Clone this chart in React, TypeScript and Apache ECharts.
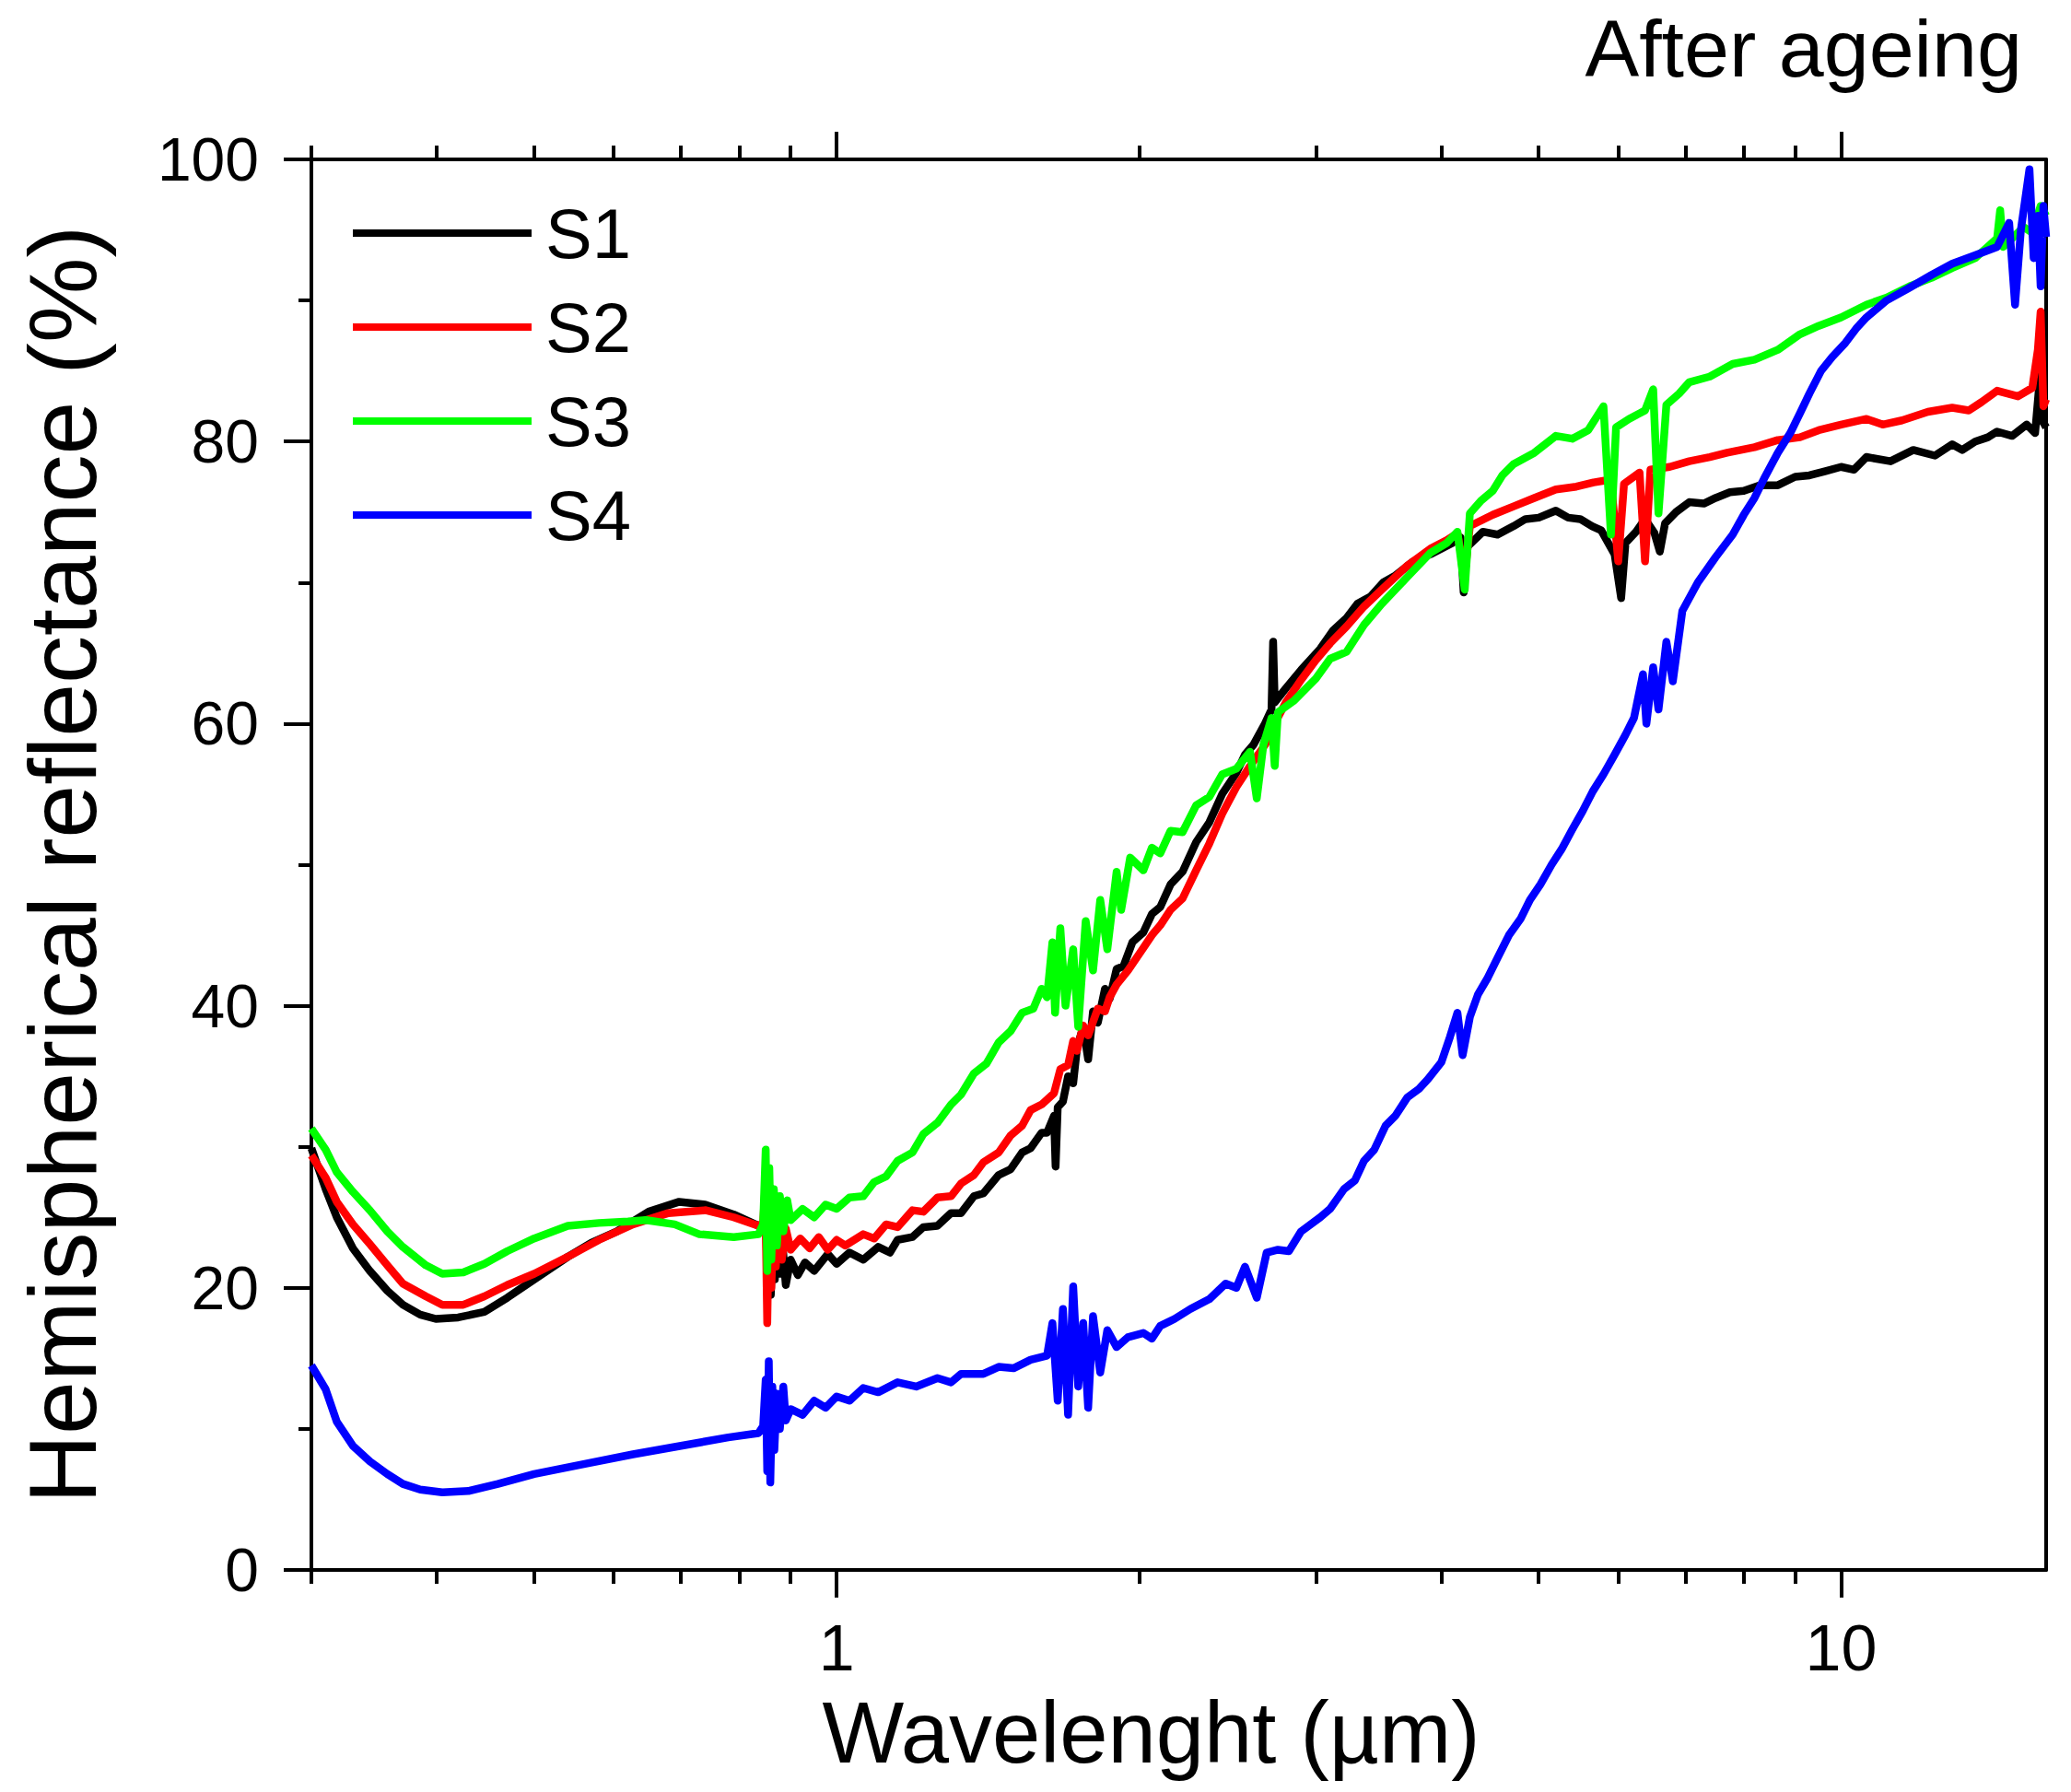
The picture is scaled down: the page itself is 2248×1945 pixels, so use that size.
import { useEffect, useRef } from 'react'
import * as echarts from 'echarts'

const FONT = 'Liberation Sans, Arial, sans-serif'

const X_MIN = 0.3
const X_MAX = 16
const MAJOR_X = [1, 10]
const MINOR_X = [0.3, 0.4, 0.5, 0.6, 0.7, 0.8, 0.9, 2, 3, 4, 5, 6, 7, 8, 9]

const SERIES_NAMES = ['S1', 'S2', 'S3', 'S4']
const SERIES_COLORS = ['#000000', '#ff0000', '#00ff00', '#0000ff']

// [wavelength (µm), reflectance (%)]
const S1: [number, number][] = [
  [0.3, 29.9], [0.31, 27.0], [0.318, 25.0], [0.33, 22.8], [0.343, 21.2], [0.357, 19.8],
  [0.37, 18.8], [0.385, 18.1], [0.399, 17.8], [0.42, 17.9], [0.446, 18.3], [0.47, 19.3],
  [0.5, 20.6], [0.54, 22.2], [0.57, 23.2], [0.604, 24.0], [0.65, 25.4], [0.697, 26.1],
  [0.74, 25.9], [0.79, 25.2], [0.836, 24.4], [0.845, 24.0], [0.85, 26.5], [0.853, 20.5],
  [0.856, 25.8], [0.86, 19.5], [0.864, 24.2], [0.868, 20.6], [0.872, 23.5], [0.878, 21.0],
  [0.884, 22.8], [0.89, 20.2], [0.9, 22.0], [0.915, 20.9], [0.93, 21.8], [0.95, 21.2],
  [0.98, 22.4], [1.0, 21.7], [1.03, 22.5], [1.063, 22.0], [1.1, 22.9], [1.13, 22.5],
  [1.15, 23.4], [1.19, 23.6], [1.22, 24.3], [1.26, 24.4], [1.3, 25.3], [1.33, 25.3],
  [1.37, 26.5], [1.4, 26.7], [1.45, 28.0], [1.49, 28.4], [1.53, 29.6], [1.56, 29.9],
  [1.6, 31.0], [1.62, 31.0], [1.646, 32.2], [1.652, 28.6], [1.66, 32.8], [1.68, 33.2],
  [1.7, 35.0], [1.72, 34.5], [1.735, 37.0], [1.76, 38.5], [1.78, 36.2], [1.8, 39.6],
  [1.82, 38.8], [1.85, 41.2], [1.87, 40.5], [1.9, 42.6], [1.93, 42.8], [1.97, 44.5],
  [2.02, 45.2], [2.06, 46.5], [2.1, 47.0], [2.15, 48.6], [2.21, 49.5], [2.28, 51.6],
  [2.35, 53.0], [2.42, 55.0], [2.5, 56.5], [2.55, 57.8], [2.6, 58.5], [2.67, 60.0],
  [2.71, 61.0], [2.72, 65.8], [2.73, 61.5], [2.8, 62.5], [2.9, 63.8], [3.03, 65.3],
  [3.12, 66.6], [3.22, 67.5], [3.3, 68.5], [3.4, 69.0], [3.5, 70.0], [3.6, 70.5],
  [3.75, 71.5], [3.9, 72.0], [4.1, 72.8], [4.18, 73.2], [4.21, 69.3], [4.24, 72.5],
  [4.4, 73.6], [4.55, 73.4], [4.72, 74.0], [4.85, 74.5], [5.0, 74.6], [5.2, 75.1],
  [5.35, 74.6], [5.5, 74.5], [5.65, 74.0], [5.77, 73.7], [5.95, 72.0], [6.04, 68.9],
  [6.1, 72.8], [6.25, 73.6], [6.38, 74.5], [6.52, 73.5], [6.6, 72.2], [6.68, 74.2],
  [6.85, 75.0], [7.06, 75.7], [7.3, 75.6], [7.5, 76.0], [7.75, 76.4], [8.0, 76.5],
  [8.3, 76.9], [8.65, 76.9], [9.0, 77.5], [9.3, 77.6], [9.65, 77.9], [10.0, 78.2],
  [10.3, 78.0], [10.6, 78.9], [11.2, 78.6], [11.8, 79.4], [12.4, 79.0], [12.9, 79.8],
  [13.2, 79.4], [13.6, 80.0], [14.0, 80.3], [14.3, 80.7], [14.8, 80.4], [15.3, 81.2],
  [15.6, 80.6], [15.75, 84.0], [15.8, 88.0], [15.85, 81.5], [16.0, 81.0],
]

const S2: [number, number][] = [
  [0.3, 29.4], [0.31, 27.8], [0.318, 26.1], [0.33, 24.5], [0.343, 23.1], [0.357, 21.6],
  [0.37, 20.3], [0.39, 19.4], [0.405, 18.8], [0.425, 18.8], [0.446, 19.4], [0.47, 20.2],
  [0.5, 21.0], [0.54, 22.2], [0.58, 23.4], [0.627, 24.5], [0.68, 25.3], [0.741, 25.5],
  [0.79, 25.0], [0.836, 24.4], [0.845, 24.6], [0.849, 27.0], [0.853, 17.5], [0.857, 26.5],
  [0.861, 20.0], [0.866, 25.8], [0.87, 21.5], [0.876, 25.0], [0.882, 22.0], [0.89, 24.2],
  [0.9, 22.7], [0.92, 23.5], [0.94, 22.8], [0.96, 23.6], [0.98, 22.7], [1.0, 23.4],
  [1.02, 23.0], [1.063, 23.8], [1.09, 23.5], [1.12, 24.5], [1.15, 24.3], [1.19, 25.5],
  [1.22, 25.4], [1.26, 26.4], [1.3, 26.5], [1.33, 27.4], [1.37, 28.0], [1.4, 28.9],
  [1.45, 29.6], [1.49, 30.8], [1.53, 31.5], [1.56, 32.6], [1.6, 33.0], [1.646, 33.8],
  [1.67, 35.5], [1.7, 35.8], [1.72, 37.5], [1.735, 36.8], [1.76, 38.6], [1.78, 37.9],
  [1.82, 39.8], [1.85, 39.6], [1.87, 40.6], [1.9, 41.5], [1.95, 42.5], [2.02, 44.1],
  [2.06, 45.0], [2.1, 45.7], [2.15, 46.8], [2.21, 47.6], [2.28, 49.6], [2.35, 51.5],
  [2.42, 53.6], [2.5, 55.5], [2.58, 57.0], [2.67, 58.5], [2.73, 60.0], [2.8, 61.5],
  [2.9, 63.1], [3.0, 64.5], [3.1, 65.7], [3.22, 66.9], [3.35, 68.3], [3.49, 69.5],
  [3.7, 71.2], [3.9, 72.4], [4.05, 73.0], [4.15, 73.5], [4.22, 70.5], [4.27, 74.0],
  [4.5, 74.8], [4.72, 75.4], [4.95, 76.0], [5.2, 76.6], [5.45, 76.8], [5.67, 77.1],
  [5.9, 77.3], [6.0, 71.5], [6.08, 77.0], [6.3, 77.8], [6.38, 71.5], [6.46, 78.0],
  [6.75, 78.2], [7.06, 78.6], [7.4, 78.9], [7.7, 79.2], [8.2, 79.6], [8.65, 80.1],
  [9.1, 80.3], [9.5, 80.8], [10.0, 81.2], [10.6, 81.6], [11.0, 81.2], [11.5, 81.5],
  [12.2, 82.1], [12.9, 82.4], [13.4, 82.2], [13.8, 82.8], [14.3, 83.6], [15.0, 83.2],
  [15.5, 83.8], [15.7, 86.5], [15.8, 89.2], [15.9, 82.5], [16.0, 83.0],
]

const S3: [number, number][] = [
  [0.3, 31.3], [0.31, 29.8], [0.318, 28.2], [0.33, 26.8], [0.343, 25.5], [0.357, 24.0],
  [0.37, 22.9], [0.39, 21.6], [0.405, 21.0], [0.425, 21.1], [0.446, 21.7], [0.47, 22.6],
  [0.5, 23.5], [0.54, 24.4], [0.58, 24.6], [0.62, 24.7], [0.646, 24.8], [0.69, 24.5],
  [0.73, 23.8], [0.79, 23.6], [0.836, 23.8], [0.845, 24.5], [0.85, 29.8], [0.853, 21.2],
  [0.857, 28.5], [0.861, 22.0], [0.866, 27.0], [0.872, 23.0], [0.878, 26.5], [0.885, 24.0],
  [0.893, 26.2], [0.9, 24.8], [0.925, 25.6], [0.95, 25.0], [0.975, 25.9], [1.0, 25.6],
  [1.03, 26.4], [1.063, 26.5], [1.09, 27.5], [1.12, 27.9], [1.15, 29.0], [1.19, 29.6],
  [1.22, 30.9], [1.26, 31.7], [1.3, 33.0], [1.33, 33.7], [1.37, 35.2], [1.41, 35.9],
  [1.45, 37.4], [1.49, 38.2], [1.53, 39.5], [1.57, 39.8], [1.6, 41.2], [1.62, 40.6],
  [1.64, 44.5], [1.65, 39.5], [1.67, 45.5], [1.69, 40.0], [1.72, 44.0], [1.74, 38.5],
  [1.77, 46.0], [1.8, 42.5], [1.83, 47.5], [1.86, 44.0], [1.9, 49.5], [1.92, 46.8],
  [1.96, 50.5], [2.02, 49.6], [2.06, 51.2], [2.1, 50.8], [2.15, 52.4], [2.21, 52.3],
  [2.28, 54.2], [2.35, 54.8], [2.42, 56.4], [2.5, 56.8], [2.58, 58.0], [2.62, 54.7],
  [2.66, 58.5], [2.71, 60.4], [2.73, 57.0], [2.75, 60.8], [2.85, 61.6], [3.0, 63.2],
  [3.1, 64.6], [3.22, 65.1], [3.35, 67.0], [3.49, 68.5], [3.7, 70.4], [3.9, 72.1],
  [4.05, 72.8], [4.15, 73.6], [4.22, 69.5], [4.27, 74.9], [4.38, 75.8], [4.5, 76.5],
  [4.6, 77.6], [4.72, 78.4], [4.95, 79.2], [5.2, 80.4], [5.4, 80.2], [5.6, 80.8],
  [5.8, 82.5], [5.9, 73.4], [5.97, 81.0], [6.15, 81.6], [6.38, 82.2], [6.5, 83.7],
  [6.58, 74.9], [6.7, 82.6], [6.9, 83.4], [7.06, 84.2], [7.4, 84.6], [7.8, 85.5],
  [8.2, 85.8], [8.65, 86.5], [9.1, 87.6], [9.5, 88.2], [10.0, 88.8], [10.6, 89.7],
  [11.1, 90.2], [11.7, 91.0], [12.3, 91.6], [12.9, 92.3], [13.6, 93.0], [14.3, 94.4],
  [14.4, 96.4], [14.5, 93.8], [14.9, 94.6], [15.2, 95.2], [15.5, 94.8], [15.8, 96.7],
  [16.0, 96.0],
]

const S4: [number, number][] = [
  [0.3, 14.5], [0.31, 12.8], [0.318, 10.5], [0.33, 8.8], [0.343, 7.7], [0.357, 6.8],
  [0.37, 6.1], [0.385, 5.7], [0.405, 5.5], [0.43, 5.6], [0.46, 6.1], [0.5, 6.8],
  [0.56, 7.5], [0.627, 8.2], [0.7, 8.8], [0.78, 9.4], [0.836, 9.7], [0.845, 10.2],
  [0.85, 13.5], [0.853, 7.0], [0.856, 14.8], [0.859, 6.2], [0.863, 13.0], [0.867, 8.5],
  [0.872, 12.5], [0.878, 10.0], [0.885, 13.0], [0.89, 10.6], [0.9, 11.4], [0.925, 11.0],
  [0.95, 12.0], [0.975, 11.5], [1.0, 12.3], [1.03, 12.0], [1.063, 12.9], [1.1, 12.6],
  [1.15, 13.3], [1.2, 13.0], [1.26, 13.6], [1.3, 13.3], [1.33, 13.9], [1.4, 13.9],
  [1.45, 14.4], [1.5, 14.3], [1.56, 14.9], [1.62, 15.2], [1.64, 17.5], [1.66, 12.0],
  [1.68, 18.5], [1.7, 11.0], [1.72, 20.1], [1.74, 13.0], [1.76, 17.5], [1.78, 11.5],
  [1.8, 18.0], [1.83, 14.0], [1.86, 17.0], [1.9, 15.8], [1.95, 16.5], [2.02, 16.8],
  [2.06, 16.4], [2.1, 17.3], [2.17, 17.8], [2.25, 18.5], [2.35, 19.2], [2.44, 20.3],
  [2.5, 20.0], [2.55, 21.5], [2.62, 19.3], [2.68, 22.5], [2.75, 22.7], [2.82, 22.6],
  [2.9, 24.0], [3.03, 25.0], [3.1, 25.6], [3.2, 27.0], [3.28, 27.6], [3.35, 29.0],
  [3.43, 29.8], [3.52, 31.5], [3.6, 32.2], [3.7, 33.5], [3.8, 34.1], [3.88, 34.8],
  [4.0, 36.0], [4.08, 37.8], [4.15, 39.5], [4.2, 36.5], [4.27, 39.2], [4.35, 40.8],
  [4.45, 42.0], [4.55, 43.4], [4.67, 45.0], [4.8, 46.2], [4.9, 47.5], [5.02, 48.6],
  [5.15, 50.0], [5.27, 51.1], [5.4, 52.5], [5.53, 53.8], [5.66, 55.2], [5.8, 56.4],
  [5.95, 57.8], [6.1, 59.2], [6.22, 60.4], [6.35, 63.5], [6.4, 60.0], [6.5, 64.0],
  [6.58, 61.0], [6.7, 65.8], [6.8, 63.0], [6.95, 68.0], [7.2, 70.0], [7.5, 71.8],
  [7.8, 73.4], [8.0, 74.8], [8.2, 76.0], [8.4, 77.5], [8.65, 79.2], [8.9, 80.6],
  [9.1, 82.0], [9.3, 83.4], [9.55, 85.0], [9.8, 86.0], [10.1, 87.0], [10.35, 88.0],
  [10.6, 88.8], [11.1, 90.0], [11.7, 90.9], [12.3, 91.8], [12.9, 92.6], [13.6, 93.2],
  [14.3, 93.8], [14.7, 95.5], [14.9, 89.7], [15.1, 95.0], [15.4, 99.3], [15.55, 93.0],
  [15.7, 96.0], [15.8, 91.0], [15.9, 96.7], [16.0, 94.5],
]

const SERIES_DATA = [S1, S2, S3, S4]

const AXIS_COLOR = '#000000'
const AXIS_W = 4

// tick-only axes laid out in log10 space so they line up with the log data axis
const LOG_MIN = Math.log10(X_MIN)
const LOG_MAX = Math.log10(X_MAX)

function tickAxis(position: 'top' | 'bottom', values: number[], length: number, showLine: boolean, showLabel: boolean) {
  const logVals = values.map((v) => Math.log10(v))
  return {
    type: 'value' as const,
    position,
    min: LOG_MIN,
    max: LOG_MAX,
    axisLine: { show: showLine, onZero: false, lineStyle: { color: AXIS_COLOR, width: AXIS_W } },
    axisTick: {
      show: true,
      inside: false,
      length,
      customValues: logVals,
      lineStyle: { color: AXIS_COLOR, width: AXIS_W },
    },
    axisLabel: {
      show: showLabel,
      customValues: logVals,
      margin: 50,
      color: '#000',
      fontSize: 70,
      fontFamily: FONT,
      formatter: (v: number) => String(Math.round(Math.pow(10, v))),
    },
    splitLine: { show: false },
  }
}

export default function App() {
  const chartRef = useRef<HTMLDivElement>(null)

  useEffect(() => {
    if (!chartRef.current) return
    const chart = echarts.init(chartRef.current, undefined, { renderer: 'svg' })

    const series: any[] = SERIES_NAMES.map((name, i) => ({
      name,
      type: 'line',
      xAxisIndex: 0,
      yAxisIndex: 0,
      showSymbol: false,
      symbol: 'none',
      lineStyle: { color: SERIES_COLORS[i], width: 8.5, join: 'round' },
      itemStyle: { color: SERIES_COLORS[i] },
      data: SERIES_DATA[i],
    }))

    const option: any = {
      animation: false,
      backgroundColor: '#ffffff',
      grid: {
        left: 338,
        right: 27,
        top: 173,
        bottom: 241,
        containLabel: false,
        outerBoundsMode: 'none',
      },
      legend: {
        orient: 'vertical',
        left: 383,
        top: 215,
        padding: 0,
        icon: 'rect',
        itemWidth: 194,
        itemHeight: 8,
        itemGap: 26,
        textStyle: { color: '#000', fontSize: 76, fontFamily: FONT, padding: [0, 0, 0, 10] },
        data: SERIES_NAMES,
      },
      graphic: [
        {
          type: 'text',
          style: {
            x: 2195,
            y: 52,
            text: 'After ageing',
            fill: '#000',
            font: `88px ${FONT}`,
            textAlign: 'right',
            textVerticalAlign: 'middle',
          },
        },
      ],
      xAxis: [
        {
          type: 'log',
          logBase: 10,
          min: X_MIN,
          max: X_MAX,
          position: 'bottom',
          axisLine: { show: true, onZero: false, lineStyle: { color: AXIS_COLOR, width: AXIS_W } },
          axisTick: { show: false },
          axisLabel: { show: false },
          splitLine: { show: false },
          name: 'Wavelenght (µm)',
          nameLocation: 'middle',
          nameGap: 129,
          nameTextStyle: { color: '#000', fontSize: 94, fontFamily: FONT, padding: [0, 60, 0, 0] },
        },
        tickAxis('bottom', MAJOR_X, 30, false, true),
        tickAxis('bottom', MINOR_X, 15, false, false),
        tickAxis('top', MAJOR_X, 30, true, false),
        tickAxis('top', MINOR_X, 15, false, false),
      ],
      yAxis: [
        {
          type: 'value',
          position: 'left',
          min: 0,
          max: 100,
          interval: 20,
          axisLine: { show: true, onZero: false, lineStyle: { color: AXIS_COLOR, width: AXIS_W } },
          axisTick: { show: true, inside: false, length: 30, lineStyle: { color: AXIS_COLOR, width: AXIS_W } },
          minorTick: { show: true, splitNumber: 2, length: 14, lineStyle: { color: AXIS_COLOR, width: AXIS_W } },
          axisLabel: { color: '#000', fontSize: 66, fontFamily: FONT, margin: 57 },
          splitLine: { show: false },
          minorSplitLine: { show: false },
          name: 'Hemispherical reflectance (%)',
          nameLocation: 'middle',
          nameGap: 218,
          nameTextStyle: { color: '#000', fontSize: 104, fontFamily: FONT },
        },
        {
          type: 'value',
          position: 'right',
          min: 0,
          max: 100,
          axisLine: { show: true, onZero: false, lineStyle: { color: AXIS_COLOR, width: AXIS_W } },
          axisTick: { show: false },
          axisLabel: { show: false },
          splitLine: { show: false },
        },
      ],
      series,
    }

    chart.setOption(option)

    const handleResize = () => chart.resize()
    window.addEventListener('resize', handleResize)
    return () => {
      window.removeEventListener('resize', handleResize)
      chart.dispose()
    }
  }, [])

  return (
    <div
      ref={chartRef}
      style={{ position: 'fixed', left: 0, top: 0, width: '2248px', height: '1945px', background: '#fff' }}
    />
  )
}
